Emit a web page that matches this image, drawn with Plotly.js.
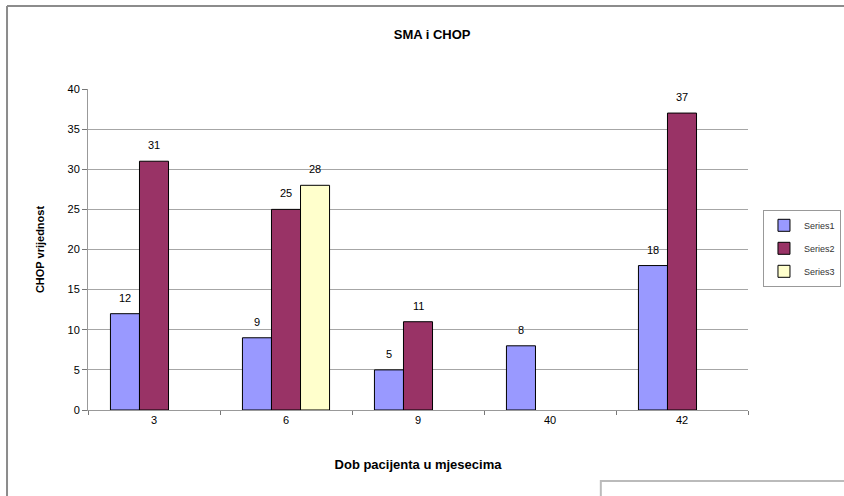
<!DOCTYPE html>
<html>
<head>
<meta charset="utf-8">
<script src="https://cdn.plot.ly/plotly-3.0.1.min.js"></script>
<style>html,body{margin:0;padding:0;background:#fff;}#chart{width:844px;height:496px;}</style>
</head>
<body>
<div id="chart"></div>
<script>
var categories = ['3', '6', '9', '40', '42'];
var series1 = [12, 9, 5, 8, 18];
var series2 = [31, 25, 11, null, 37];
var series3 = [null, 28, null, null, null];
var seriesNames = ['Series1', 'Series2', 'Series3'];
var seriesColors = ['#9999FF', '#993366', '#FFFFCC'];
var allSeries = [series1, series2, series3];

var plotW = 844 - 88 - 96;
var bargap = 0.34;
var barPx = plotW / categories.length * (1 - bargap) / allSeries.length;

var traces = allSeries.map(function (vals, i) {
  return {
    type: 'bar',
    name: seriesNames[i],
    legendgroup: 'g' + i,
    x: categories,
    y: vals,
    marker: {color: seriesColors[i], line: {color: '#000', width: 1}},
    hoverinfo: 'skip'
  };
});

var annotations = [];
allSeries.forEach(function (vals, i) {
  vals.forEach(function (v, j) {
    if (v === null) return;
    annotations.push({
      x: j, y: v, xref: 'x', yref: 'y',
      text: String(v), showarrow: false,
      yanchor: 'bottom', yshift: 8,
      xshift: (i - (allSeries.length - 1) / 2) * barPx,
      font: {family: 'Arial, Liberation Sans, sans-serif', size: 11, color: '#000'}
    });
  });
});

var layout = {
  width: 844, height: 496,
  margin: {l: 88, r: 96, t: 89, b: 86},
  paper_bgcolor: '#fff', plot_bgcolor: '#fff',
  barmode: 'group', bargap: bargap, bargroupgap: 0,
  font: {family: 'Arial, Liberation Sans, sans-serif', size: 11, color: '#000'},
  title: {text: '<b>SMA i CHOP</b>', font: {size: 13, color: '#000'}, xref: 'container', x: 0.512, xanchor: 'center', yref: 'container', y: 0.93, yanchor: 'middle'},
  xaxis: {
    type: 'category', categoryorder: 'array', categoryarray: categories,
    range: [-0.5, categories.length - 0.5],
    showline: true, linecolor: '#999', linewidth: 1,
    ticks: 'outside', tickson: 'boundaries', ticklen: 4, tickcolor: '#777',
    showgrid: false, tickfont: {size: 11}, tickangle: 0,
    title: {text: '<b>Dob pacijenta u mjesecima</b>', font: {size: 13}, standoff: 34}
  },
  yaxis: {
    range: [0, 40], dtick: 5, showline: true, linecolor: '#999', linewidth: 1,
    ticks: 'outside', ticklen: 5, tickcolor: '#777',
    showgrid: true, gridcolor: '#a6a6a6', gridwidth: 1, zeroline: false,
    tickfont: {size: 11},
    title: {text: '<b>CHOP vrijednost</b>', font: {size: 11}, standoff: 20}
  },
  showlegend: true,
  legend: {
    xref: 'container', yref: 'container',
    x: 0.904, xanchor: 'left', y: 0.577, yanchor: 'top',
    bordercolor: '#999', borderwidth: 1, bgcolor: '#fff',
    font: {size: 9, color: '#333'}, tracegroupgap: 4, traceorder: 'grouped',
    itemwidth: 30
  },
  annotations: annotations,
  shapes: [
    {type: 'line', xref: 'paper', yref: 'paper', x0: -0.1227, x1: 1.2, y0: 1.2586, y1: 1.2586, line: {color: '#8c8c8c', width: 2}},
    {type: 'line', xref: 'paper', yref: 'paper', x0: -0.1227, x1: -0.1227, y0: 1.2586, y1: -0.3, line: {color: '#8c8c8c', width: 2}},
    {type: 'rect', xref: 'paper', yref: 'paper', x0: 0.777, x1: 1.2, y0: -0.221, y1: -0.35, line: {color: '#bbbbbb', width: 2}, fillcolor: 'rgba(0,0,0,0)'}
  ]
};

Plotly.newPlot('chart', traces, layout, {displayModeBar: false, staticPlot: true});
</script>
</body>
</html>
